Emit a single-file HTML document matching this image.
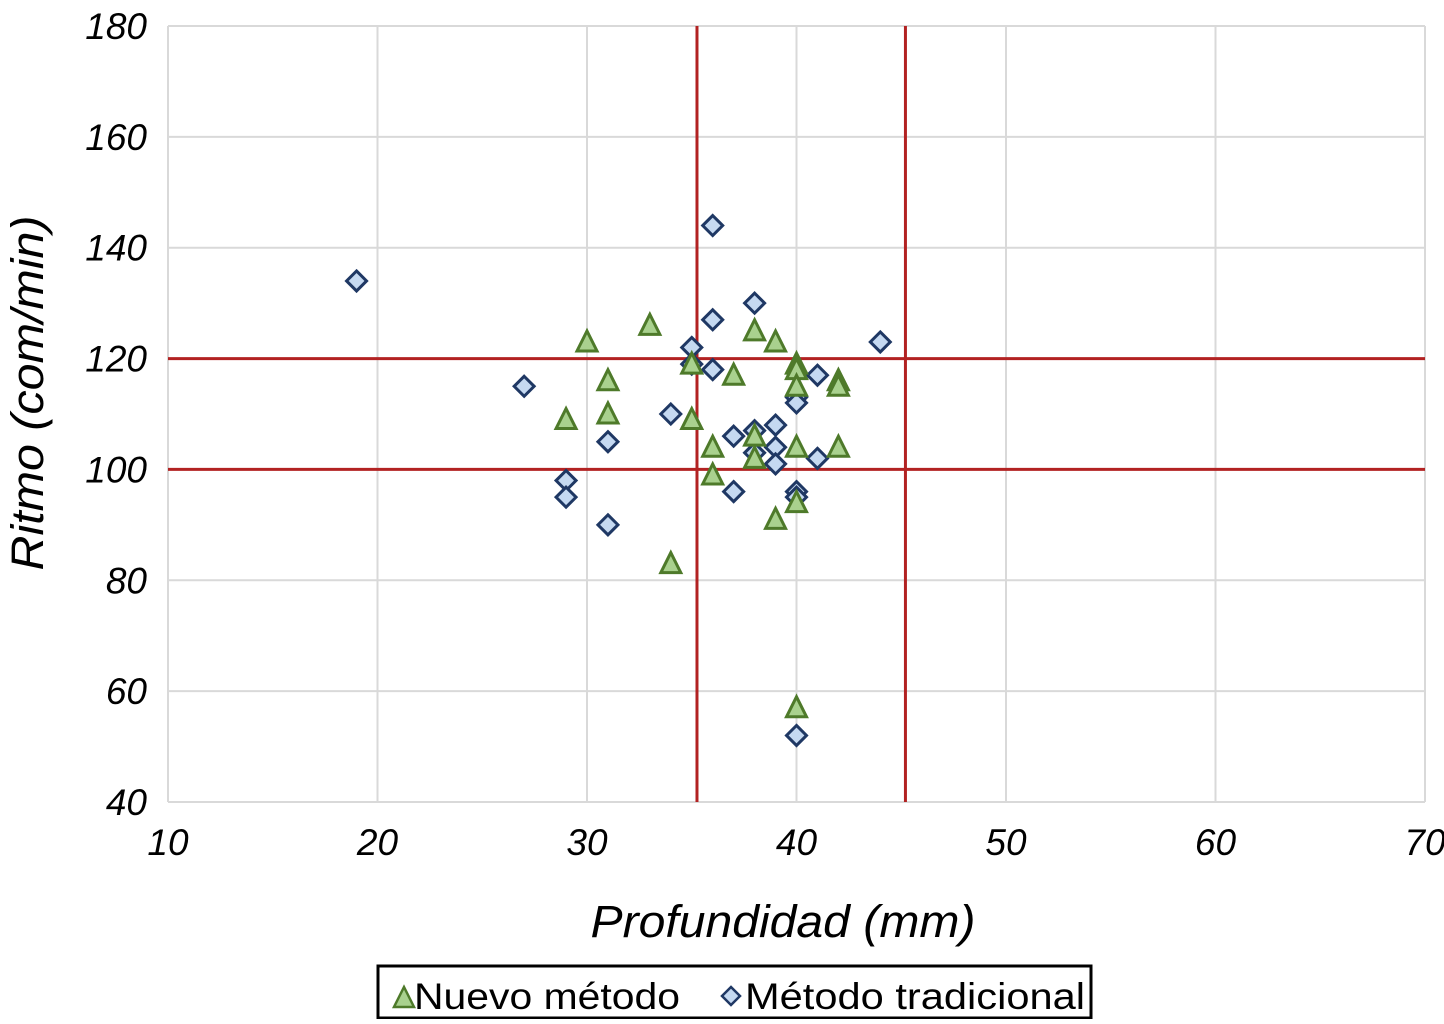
<!DOCTYPE html>
<html><head><meta charset="utf-8"><style>
body{margin:0;background:#fff;}
svg text{font-family:"Liberation Sans",sans-serif;font-style:italic;fill:#000;}
</style></head><body>
<svg width="1444" height="1019">
<g id="grid"></g><g id="marks"></g><g id="labels"></g>
<text x="783" y="937" font-size="45" text-anchor="middle" textLength="385" lengthAdjust="spacingAndGlyphs">Profundidad (mm)</text>
<text transform="translate(43,393) rotate(-90)" font-size="45" text-anchor="middle" textLength="355" lengthAdjust="spacingAndGlyphs">Ritmo (com/min)</text>
<g>
<rect x="378" y="966" width="713" height="52" fill="#fff" stroke="#000" stroke-width="3"/>
<polygon points="394,1007 414,1007 404,987" fill="#a9d18e" stroke="#4e7a2a" stroke-width="2.5"/>
<text x="414" y="1009" font-size="37" style="font-style:normal" textLength="266" lengthAdjust="spacingAndGlyphs">Nuevo método</text>
<polygon points="731,987 740,996 731,1005 722,996" fill="#c5d9f1" stroke="#1f3864" stroke-width="2.5"/>
<text x="745" y="1009" font-size="37" style="font-style:normal" textLength="340" lengthAdjust="spacingAndGlyphs">Método tradicional</text>
</g>
</svg>
<script>
const xTicks=[10,20,30,40,50,60,70];
const yTicks=[40,60,80,100,120,140,160,180];
const refX=[35.25,45.2];
const refY=[100,120];
const tradX=[19,36,38,36,44,35,35,36,27,41,40,40,34,37,38,39,38,39,39,41,31,29,29,37,40,40,31,40];
const tradY=[134,144,130,127,123,122,119,118,115,117,113,112,110,106,107,108,103,104,101,102,105,98,95,96,96,95,90,52];
const nuevoX=[33,30,38,39,35,40,40,37,31,42,42,40,29,31,35,36,40,42,38,38,36,40,39,34,40];
const nuevoY=[126,123,125,123,119,119,118,117,116,116,115,115,109,110,109,104,104,104,106,102,99,94,91,83,57];
const X0=168,X1=1425,Y0=802,Y1=26;
const sx=v=>X0+(v-10)/60*(X1-X0);
const sy=v=>Y0-(v-40)/140*(Y0-Y1);
const NS="http://www.w3.org/2000/svg";
function mk(t,a,p){const e=document.createElementNS(NS,t);for(const k in a)e.setAttribute(k,a[k]);p.appendChild(e);return e;}
const g=document.getElementById('grid'),m=document.getElementById('marks'),l=document.getElementById('labels');
xTicks.forEach(v=>{const e=mk('line',{x1:sx(v),x2:sx(v),y1:Y1,y2:Y0,stroke:'#d9d9d9','stroke-width':2},g);


const t=mk('text',{x:sx(v),y:855,'font-size':37,'text-anchor':'middle'},l);t.textContent=v;

});
yTicks.forEach(v=>{const e=mk('line',{x1:X0,x2:X1,y1:sy(v),y2:sy(v),stroke:'#d9d9d9','stroke-width':2},g);


const t=mk('text',{x:147,y:sy(v)+13,'font-size':37,'text-anchor':'end'},l);t.textContent=v;

});
refX.forEach(v=>{const e=mk('line',{x1:sx(v),x2:sx(v),y1:Y1,y2:Y0,stroke:'#b22222','stroke-width':3},g);

});
refY.forEach(v=>{const e=mk('line',{x1:X0,x2:X1,y1:sy(v),y2:sy(v),stroke:'#b22222','stroke-width':3},g);

});
tradX.forEach((v,i)=>{const x=sx(v),y=sy(tradY[i]);
const e=mk('polygon',{points:`${x},${y-10} ${x+10},${y} ${x},${y+10} ${x-10},${y}`,fill:'#c5d9f1',stroke:'#1f3864','stroke-width':3},m);

});
nuevoX.forEach((v,i)=>{const x=sx(v),y=sy(nuevoY[i]);
const e=mk('polygon',{points:`${x-10},${y+9} ${x+10},${y+9} ${x},${y-11}`,fill:'#a9d18e',stroke:'#4e7a2a','stroke-width':3},m);

});
</script>
</body></html>
